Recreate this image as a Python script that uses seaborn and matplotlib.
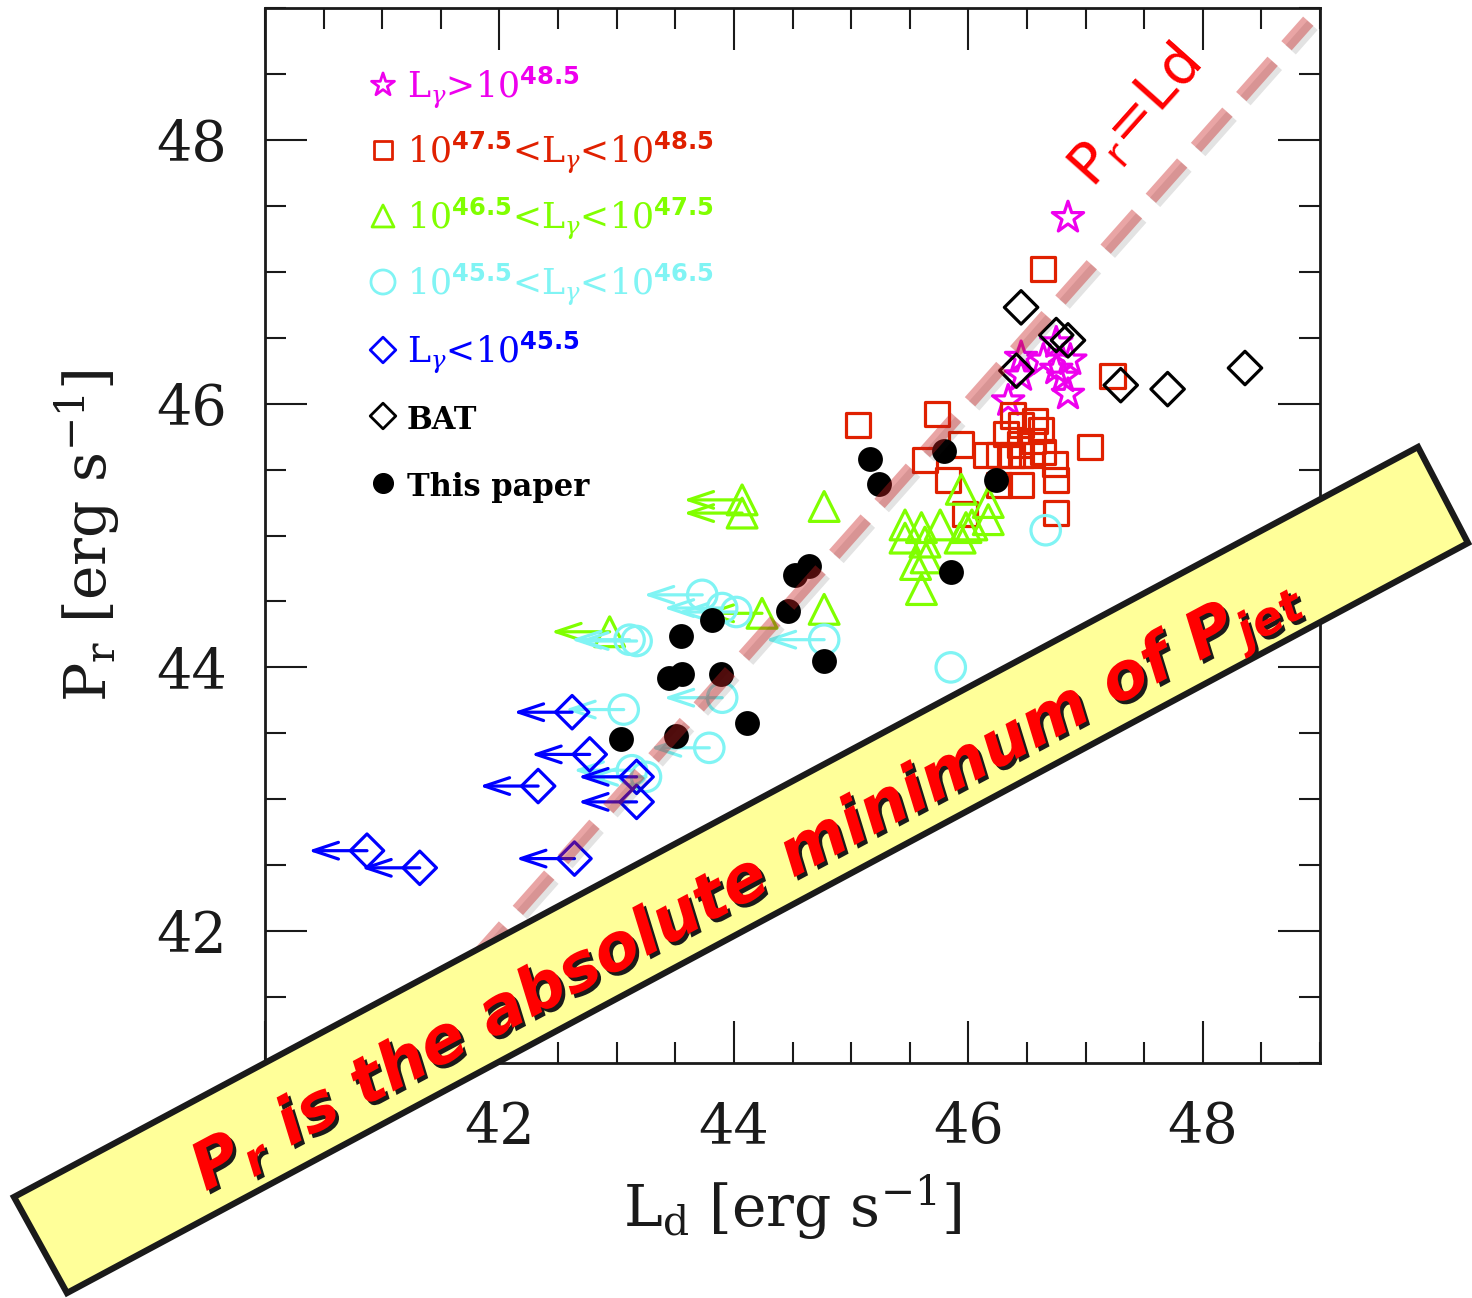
import matplotlib
matplotlib.use('Agg')
import matplotlib.pyplot as plt
import matplotlib.patheffects as pe
from matplotlib.patches import Polygon
from matplotlib.ticker import MultipleLocator
import seaborn as sns
import pandas as pd
import numpy as np

# ---------------- data ----------------
star_x = [46.85, 46.45, 46.64, 46.75, 46.87, 46.75, 46.45, 46.81, 46.85, 46.34]
star_y = [47.41, 46.35, 46.33, 46.46, 46.33, 46.26, 46.21, 46.20, 46.07, 46.02]

sq_x = [46.64, 47.23, 45.06, 45.73, 47.04, 46.38, 46.45, 46.57, 46.62, 46.32, 46.44, 46.55,
        46.15, 46.26, 46.37, 46.45, 46.54, 46.64, 46.74, 46.75, 46.45, 46.26, 45.94, 45.63,
        45.83, 45.97, 46.75]
sq_y = [47.02, 46.21, 45.84, 45.92, 45.67, 45.91, 45.84, 45.87, 45.80, 45.77, 45.69, 45.72,
        45.61, 45.61, 45.61, 45.61, 45.61, 45.63, 45.54, 45.42, 45.38, 45.38, 45.69, 45.57,
        45.42, 45.16, 45.17]

tri_x = [44.07, 44.07, 44.77, 44.77, 44.24, 42.94, 45.94, 46.17, 45.46, 45.60, 45.76, 45.98,
         46.17, 45.46, 45.63, 45.93, 45.55, 45.64, 45.60, 46.03]
tri_y = [45.27, 45.17, 45.22, 44.44, 44.41, 44.27, 45.35, 45.25, 45.08, 45.06, 45.08, 45.06,
         45.12, 44.98, 44.95, 44.98, 44.78, 44.83, 44.59, 45.08]
tri_ul = [1, 1, 0, 0, 1, 1, 0, 0, 0, 0, 0, 0, 0, 0, 0, 0, 0, 0, 0, 0]

circ_x = [46.66, 45.85, 44.77, 43.73, 43.90, 44.02, 43.11, 43.17, 43.06, 43.90, 43.79, 43.13, 43.25]
circ_y = [45.04, 44.00, 44.21, 44.55, 44.45, 44.42, 44.21, 44.20, 43.68, 43.77, 43.39, 43.22, 43.17]
circ_ul = [0, 0, 1, 1, 1, 1, 1, 1, 1, 1, 1, 1, 1]

dia_x = [42.62, 42.77, 42.33, 43.17, 43.17, 42.64, 40.87, 41.32]
dia_y = [43.66, 43.34, 43.10, 42.98, 43.17, 42.55, 42.61, 42.48]
dia_ul = [1, 1, 1, 1, 1, 1, 1, 1]

bat_x = [46.45, 46.75, 46.85, 46.41, 47.30, 47.70, 48.36]
bat_y = [46.73, 46.52, 46.48, 46.25, 46.14, 46.11, 46.27]

tp_x = [45.16, 45.24, 45.79, 46.24, 45.85, 44.64, 44.52, 44.46, 44.77, 43.81, 43.55, 43.45,
        43.56, 43.89, 44.11, 43.04, 43.51]
tp_y = [45.58, 45.39, 45.64, 45.42, 44.72, 44.77, 44.70, 44.43, 44.05, 44.36, 44.24, 43.92,
        43.95, 43.95, 43.58, 43.46, 43.48]

ul_len = 0.5            # length of the upper-limit arrows (dex)
diag = [41.0, 48.9]     # P_r = L_d line

legend_labels = [r'L$_\gamma$>10$^\mathbf{48.5}$',
                 r'10$^\mathbf{47.5}$<L$_\gamma$<10$^\mathbf{48.5}$',
                 r'10$^\mathbf{46.5}$<L$_\gamma$<10$^\mathbf{47.5}$',
                 r'10$^\mathbf{45.5}$<L$_\gamma$<10$^\mathbf{46.5}$',
                 r'L$_\gamma$<10$^\mathbf{45.5}$',
                 'BAT', 'This paper']

C_MAG = '#ee00ee'
C_RED = '#e02000'
C_GRN = '#80ff00'
C_CYN = '#80f4f4'
C_BLU = '#0000ff'
C_BLK = '#000000'

# ---------------- style ----------------
sns.set_theme(style='ticks')
plt.rcParams['font.family'] = ['DejaVu Serif']
plt.rcParams['mathtext.fontset'] = 'custom'
plt.rcParams['mathtext.rm'] = 'DejaVu Serif'
plt.rcParams['mathtext.it'] = 'DejaVu Serif:italic'
plt.rcParams['mathtext.bf'] = 'DejaVu Sans:bold'
plt.rcParams['mathtext.sf'] = 'DejaVu Sans:bold:italic'
plt.rcParams['mathtext.tt'] = 'DejaVu Sans'
for k in ['text.color', 'axes.labelcolor', 'xtick.color', 'ytick.color',
          'xtick.labelcolor', 'ytick.labelcolor', 'axes.edgecolor']:
    plt.rcParams[k] = 'black'

W, H = 1472, 1298
fig = plt.figure(figsize=(W / 100, H / 100), dpi=100)
fig.patch.set_facecolor('white')
ax = fig.add_axes([265 / W, 1 - 1063 / H, (1320 - 265) / W, (1063 - 8) / H])
ax.set_facecolor('white')

LW = 2.3
groups = [
    (star_x, star_y, None, '*', C_MAG, 560, False),
    (sq_x, sq_y, None, 's', C_RED, 300, False),
    (tri_x, tri_y, tri_ul, '^', C_GRN, 460, False),
    (circ_x, circ_y, circ_ul, 'o', C_CYN, 450, False),
    (dia_x, dia_y, dia_ul, 'D', C_BLU, 290, False),
    (bat_x, bat_y, None, 'D', C_BLK, 290, False),
    (tp_x, tp_y, None, 'o', C_BLK, 320, True),
]

for gx, gy, gul, mk, col, s, filled in groups:
    df = pd.DataFrame({'x': gx, 'y': gy})
    if filled:
        sns.scatterplot(data=df, x='x', y='y', marker=mk, s=s, color=col,
                        edgecolor=col, linewidth=0, ax=ax, zorder=3)
    else:
        sns.scatterplot(data=df, x='x', y='y', marker=mk, s=s, color=col,
                        facecolors='none', edgecolor=col, linewidth=LW, ax=ax, zorder=3)
    if gul is not None:
        for xx, yy, u in zip(gx, gy, gul):
            if u:
                ax.annotate('', xy=(xx - ul_len, yy), xytext=(xx, yy),
                            arrowprops=dict(arrowstyle='->,head_length=0.9,head_width=0.3',
                                            color=col, lw=LW, shrinkA=0, shrinkB=0,
                                            mutation_scale=20), zorder=3)

# P_r = L_d dashed line
ax.plot(diag, diag, color='#c81f1f', alpha=0.4, lw=10, dashes=(3.4, 1.5),
        dash_capstyle='butt', zorder=5,
        path_effects=[pe.SimpleLineShadow(offset=(3, -3), shadow_color='k', alpha=0.12),
                      pe.Normal()])
ax.text(47.43, 48.17, r'P$_\mathtt{r}$=Ld', rotation=48.3, rotation_mode='anchor',
        ha='center', va='center', fontsize=41, color='red', family='DejaVu Sans', zorder=6)

# axes formatting
ax.set_xlim(40, 49)
ax.set_ylim(41, 49)
ax.xaxis.set_major_locator(MultipleLocator(2))
ax.xaxis.set_minor_locator(MultipleLocator(0.5))
ax.yaxis.set_major_locator(MultipleLocator(2))
ax.yaxis.set_minor_locator(MultipleLocator(0.5))
ax.tick_params(which='both', direction='in', top=True, right=True, width=1.5,
               color='k', labelcolor='k')
ax.tick_params(which='major', length=30, labelsize=40, pad=27)
ax.tick_params(which='minor', length=15)
for sp in ax.spines.values():
    sp.set_linewidth(2)
    sp.set_color('k')
ax.set_xlabel(r'L$_\mathrm{d}$ [erg s$^{-1}$]', fontsize=42, labelpad=12, color='k')
ax.set_ylabel(r'P$_\mathrm{r}$ [erg s$^{-1}$]', fontsize=42, labelpad=25, color='k')

# legend drawn manually in axes coordinates
leg_markers = ['*', 's', '^', 'o', 'D', 'D', 'o']
leg_colors = [C_MAG, C_RED, C_GRN, C_CYN, C_BLU, C_BLK, C_BLK]
leg_sizes = [300, 150, 250, 300, 170, 170, 200]
leg_rows = [85, 150, 216, 282, 350, 416, 483]
for i, (lab, mk, col, sz, py) in enumerate(zip(legend_labels, leg_markers, leg_colors,
                                                leg_sizes, leg_rows)):
    ya = 1 - (py - 8) / (1063 - 8)
    xm = (383 - 265) / (1320 - 265)
    xt = (407 - 265) / (1320 - 265)
    if i == 6:
        ax.scatter([xm], [ya], marker=mk, s=sz, color=col, transform=ax.transAxes,
                   zorder=4, clip_on=False)
    else:
        ax.scatter([xm], [ya], marker=mk, s=sz, facecolors='none', edgecolors=col,
                   linewidths=2.0, transform=ax.transAxes, zorder=4, clip_on=False)
    fs = 25 if i < 5 else 22
    ax.text(xt, ya - 13 / 1055, lab, transform=ax.transAxes, color=col, fontsize=fs,
            fontweight=('normal' if i < 5 else 'bold'), va='baseline', ha='left')

# yellow banner on the figure
corners = [(14, 1197), (1418, 447), (1468, 543), (67, 1293)]
banner = Polygon([(x / W, 1 - y / H) for x, y in corners], closed=True,
                 transform=fig.transFigure, facecolor='#ffff99', edgecolor='k',
                 linewidth=4.5, joinstyle='miter', zorder=10)
fig.add_artist(banner)
t = fig.text(748 / W, 1 - 885 / H,
             r'P$_\mathsf{r}$ is the absolute minimum of P$_\mathsf{jet}$',
             rotation=28.1, rotation_mode='anchor', ha='center', va='center',
             fontsize=47, color='red', fontweight='bold', style='italic',
             family='DejaVu Sans', zorder=11)
t.set_path_effects([pe.withSimplePatchShadow(offset=(2.5, -2.5), shadow_rgbFace='k', alpha=1.0)])

fig.savefig('out.png', dpi=100, facecolor='white')
